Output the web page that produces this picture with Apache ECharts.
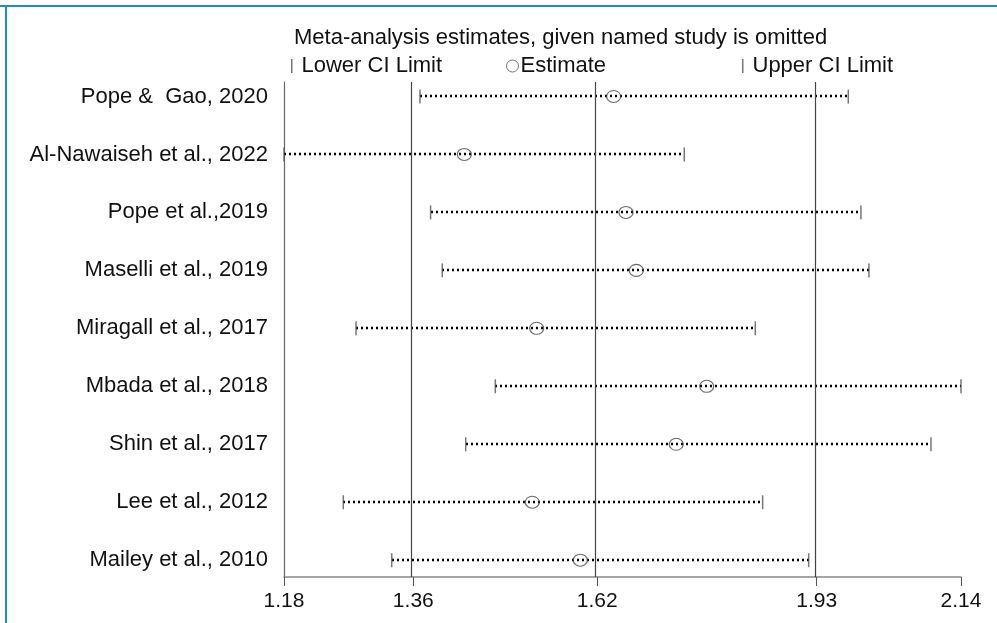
<!DOCTYPE html>
<html>
<head>
<meta charset="utf-8">
<title>Leave-one-out meta-analysis</title>
<script src="https://cdn.jsdelivr.net/npm/echarts@6/dist/echarts.min.js"></script>
<style>
  html, body { margin: 0; padding: 0; background: #fff; }
  #chart { width: 997px; height: 623px; }
</style>
</head>
<body>
<div id="chart"></div>
<script>
  // studies, top to bottom
  var studies = [
    'Pope &  Gao, 2020',
    'Al-Nawaiseh et al., 2022',
    'Pope et al.,2019',
    'Maselli et al., 2019',
    'Miragall et al., 2017',
    'Mbada et al., 2018',
    'Shin et al., 2017',
    'Lee et al., 2012',
    'Mailey et al., 2010'
  ];
  var lowerCI = [1.372, 1.18, 1.387, 1.4035, 1.2817, 1.4784, 1.4366, 1.2637, 1.3321];
  var estimate = [1.6455, 1.4346, 1.6629, 1.6775, 1.5368, 1.7769, 1.7339, 1.5306, 1.5984];
  var upperCI = [1.9768, 1.7452, 1.9947, 2.006, 1.8455, 2.136, 2.0936, 1.8559, 1.9209];
  // overall lower CI, estimate, upper CI (vertical lines)
  var overall = [1.3626, 1.6224, 1.9322];
  var xTicks = [1.18, 1.3626, 1.6224, 1.9322, 2.136];
  var rowIdx = [1, 2, 3, 4, 5, 6, 7, 8, 9];

  var txt = '#111';
  var font = '"Liberation Sans", Arial, Helvetica, sans-serif';

  var chart = echarts.init(document.getElementById('chart'));

  var rangeData = [], lowData = [], estData = [], upData = [];
  for (var i = 0; i < studies.length; i++) {
    rangeData.push([lowerCI[i], upperCI[i], rowIdx[i]]);
    lowData.push([lowerCI[i], rowIdx[i]]);
    estData.push([estimate[i], rowIdx[i]]);
    upData.push([upperCI[i], rowIdx[i]]);
  }

  chart.setOption({
    animation: false,
    backgroundColor: '#fff',
    textStyle: { fontFamily: font },
    title: {
      text: 'Meta-analysis estimates, given named study is omitted',
      left: 289,
      top: 22,
      textStyle: { fontSize: 22, fontWeight: 'normal', color: txt, fontFamily: font }
    },
    legend: [
      {
        data: ['Lower CI Limit'], left: 286, top: 50, selectedMode: false,
        icon: 'rect', itemWidth: 1.5, itemHeight: 14,
        textStyle: { fontSize: 22, color: txt, fontFamily: font, padding: [0, 0, 0, 4] }
      },
      {
        data: ['Estimate'], left: 501, top: 50, selectedMode: false,
        icon: 'circle', itemWidth: 12, itemHeight: 12,
        itemStyle: { color: 'transparent', borderColor: '#555', borderWidth: 1 },
        textStyle: { fontSize: 22, color: txt, fontFamily: font, padding: [0, 0, 0, -3] }
      },
      {
        data: ['Upper CI Limit'], left: 737, top: 50, selectedMode: false,
        icon: 'rect', itemWidth: 1.5, itemHeight: 14,
        textStyle: { fontSize: 22, color: txt, fontFamily: font, padding: [0, 0, 0, 4] }
      }
    ],
    grid: { left: 284, right: 36, top: 82, bottom: 46 },
    xAxis: {
      type: 'value',
      min: 1.18,
      max: 2.136,
      splitLine: { show: false },
      axisLine: { show: true, lineStyle: { color: '#888', width: 1.5 } },
      axisTick: { show: true, customValues: xTicks, length: 9, lineStyle: { color: '#555', width: 1 } },
      axisLabel: {
        customValues: xTicks,
        fontSize: 21, color: txt, margin: 14,
        formatter: function (v) { return v.toFixed(2); }
      }
    },
    yAxis: {
      type: 'value',
      inverse: true,
      min: 0.75,
      max: 9.29,
      splitLine: { show: false },
      axisLine: { show: true, lineStyle: { color: '#666', width: 1.2 } },
      axisTick: { show: false },
      axisLabel: {
        customValues: rowIdx,
        fontSize: 22, color: txt, margin: 16,
        formatter: function (v) { return studies[Math.round(v) - 1]; }
      }
    },
    series: [
      {
        name: 'range',
        type: 'custom',
        silent: true,
        encode: { x: [0, 1], y: 2 },
        data: rangeData,
        renderItem: function (params, api) {
          var y = api.value(2);
          var a = api.coord([api.value(0), y]);
          var b = api.coord([api.value(1), y]);
          var yy = Math.round(a[1]);
          return {
            type: 'line',
            shape: { x1: Math.round(a[0]), y1: yy, x2: Math.round(b[0]), y2: yy },
            style: { stroke: '#000', lineWidth: 2.4, lineDash: [2, 3] }
          };
        },
        markLine: {
          silent: true,
          symbol: ['none', 'none'],
          label: { show: false },
          lineStyle: { color: '#444', type: 'solid', width: 1.2 },
          data: overall.map(function (v) { return { xAxis: v }; })
        },
        z: 2
      },
      {
        name: 'Lower CI Limit',
        type: 'scatter',
        silent: true,
        symbol: 'rect',
        symbolSize: [1.5, 14],
        itemStyle: { color: '#555' },
        data: lowData,
        z: 3
      },
      {
        name: 'Estimate',
        type: 'scatter',
        silent: true,
        symbol: 'circle',
        symbolSize: [14, 12],
        itemStyle: { color: 'transparent', borderColor: '#444', borderWidth: 1.1 },
        data: estData,
        z: 4
      },
      {
        name: 'Upper CI Limit',
        type: 'scatter',
        silent: true,
        symbol: 'rect',
        symbolSize: [1.5, 14],
        itemStyle: { color: '#555' },
        data: upData,
        z: 3
      }
    ],
    graphic: [
      { type: 'line', shape: { x1: 0, y1: 6, x2: 997, y2: 6 }, style: { stroke: '#1f8ccb', lineWidth: 2 } },
      { type: 'line', shape: { x1: 6, y1: 6, x2: 6, y2: 623 }, style: { stroke: '#1f8ccb', lineWidth: 2 } }
    ]
  });
</script>
</body>
</html>
